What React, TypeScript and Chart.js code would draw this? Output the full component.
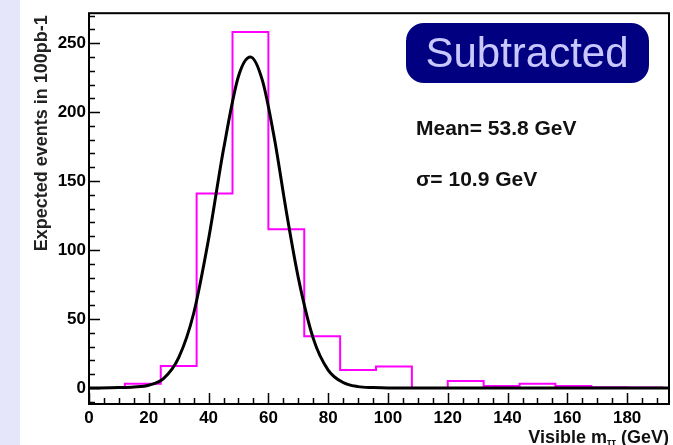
import React, { useEffect, useRef } from "react";
import { Chart, registerables } from "chart.js";

Chart.register(...registerables);

// Histogram bin edges (GeV) and contents (expected events)
const binEdges = [0, 12, 24, 36, 48, 60, 72, 84, 96, 108, 120, 132, 144, 156, 168, 180, 192];
const binValues = [0, 3, 16, 141, 258, 115, 37.5, 13, 15.5, 0, 5, 1.5, 3, 1.5, 0.5, 0.3];

// Gaussian fit curve
const fitX = [0, 10, 15, 20, 25, 30, 35, 40, 45, 50, 54, 58, 62, 66, 70, 75, 80, 85, 90, 95, 100, 194];
const fitY = [0, 0.3, 0.7, 2, 7, 22, 54, 108, 173, 226, 240, 223, 181, 128, 80, 36, 13, 4, 1, 0.3, 0, 0];

const xMajorTicks = [0, 20, 40, 60, 80, 100, 120, 140, 160, 180];
const yMajorTicks = [0, 50, 100, 150, 200, 250];

const xTitleMain = "Visible m";
const xTitleSub = "ττ";
const xTitleEnd = " (GeV)";
const yTitle = "Expected events in 100pb-1";
const boxLabel = "Subtracted";
const meanLabel = "Mean= 53.8 GeV";
const sigmaLabel = "σ= 10.9 GeV";

const FONT = '"Liberation Sans", Arial, sans-serif';

const decorPlugin = {
  id: "decor",
  beforeDraw(chart: any) {
    const ctx = chart.ctx;
    ctx.save();
    ctx.fillStyle = "#ffffff";
    ctx.fillRect(0, 0, chart.width, chart.height);
    ctx.fillStyle = "#e6e6fa";
    ctx.fillRect(0, 0, 20, chart.height);
    ctx.restore();
  },
  afterDraw(chart: any) {
    const ctx = chart.ctx;
    const { left, right, top, bottom } = chart.chartArea;
    const xs = chart.scales.x;
    const ys = chart.scales.y;
    ctx.save();
    // frame
    ctx.strokeStyle = "#000";
    ctx.lineWidth = 2;
    ctx.strokeRect(left, top, right - left, bottom - top);
    // x ticks (inward)
    ctx.lineWidth = 1.5;
    ctx.beginPath();
    for (let v = 0; v <= xs.max; v += 5) {
      const px = Math.round(xs.getPixelForValue(v)) + 0.5;
      const len = v % 20 === 0 ? 11 : 6;
      ctx.moveTo(px, bottom);
      ctx.lineTo(px, bottom - len);
    }
    // y ticks (inward)
    for (let v = -10; v <= ys.max; v += 10) {
      const py = Math.round(ys.getPixelForValue(v)) + 0.5;
      const len = v % 50 === 0 ? 11 : 6;
      ctx.moveTo(left, py);
      ctx.lineTo(left + len, py);
    }
    ctx.stroke();

    // y title
    ctx.save();
    ctx.translate(47, top + 2);
    ctx.rotate(-Math.PI / 2);
    ctx.fillStyle = "#222";
    ctx.font = `bold 18px ${FONT}`;
    ctx.textAlign = "right";
    ctx.textBaseline = "alphabetic";
    ctx.fillText(yTitle, 0, 0);
    ctx.restore();

    // x title
    ctx.fillStyle = "#111";
    ctx.textBaseline = "alphabetic";
    ctx.textAlign = "left";
    const mainFont = `bold 18px ${FONT}`;
    const subFont = `bold 10px ${FONT}`;
    ctx.font = mainFont;
    const w1 = ctx.measureText(xTitleMain).width;
    const w3 = ctx.measureText(xTitleEnd).width;
    ctx.font = subFont;
    const w2 = ctx.measureText(xTitleSub).width;
    const xEnd = 669;
    const baseY = 443;
    const x0 = xEnd - (w1 + w2 + w3);
    ctx.font = mainFont;
    ctx.fillText(xTitleMain, x0, baseY);
    ctx.font = subFont;
    ctx.fillText(xTitleSub, x0 + w1, baseY + 3);
    ctx.font = mainFont;
    ctx.fillText(xTitleEnd, x0 + w1 + w2, baseY);

    // Subtracted box
    ctx.fillStyle = "#000080";
    ctx.beginPath();
    (ctx as any).roundRect(406, 23, 243, 60, 18);
    ctx.fill();
    ctx.fillStyle = "#c8c8ff";
    ctx.font = `42px ${FONT}`;
    ctx.textAlign = "center";
    ctx.fillText(boxLabel, 527, 67);

    // stats
    ctx.fillStyle = "#111";
    ctx.textAlign = "left";
    ctx.font = `bold 21px ${FONT}`;
    ctx.fillText(meanLabel, 416, 135);
    ctx.fillText(sigmaLabel, 416, 186);
    ctx.restore();
  },
};

export default function App() {
  const ref = useRef<HTMLCanvasElement | null>(null);
  useEffect(() => {
    if (!ref.current) return;
    const histPoints = binValues.map((v, i) => ({ x: binEdges[i], y: v }));
    histPoints.push({ x: binEdges[binEdges.length - 1], y: binValues[binValues.length - 1] });
    const fitPoints = fitX.map((x, i) => ({ x, y: fitY[i] }));
    const chart = new Chart(ref.current, {
      type: "line",
      data: {
        datasets: [
          {
            label: "fit",
            data: fitPoints,
            borderColor: "#000",
            borderWidth: 3,
            pointRadius: 0,
            cubicInterpolationMode: "monotone",
            fill: false,
          },
          {
            label: "hist",
            data: histPoints,
            borderColor: "#ff00ff",
            borderWidth: 2,
            pointRadius: 0,
            stepped: "before",
            fill: false,
          },
        ],
      },
      options: {
        responsive: false,
        animation: false,
        events: [],
        layout: { padding: { left: 0, top: 13, right: 4, bottom: 0 } },
        plugins: { legend: { display: false }, tooltip: { enabled: false } },
        scales: {
          x: {
            type: "linear",
            min: 0,
            max: 194,
            grid: { display: false, drawTicks: false },
            border: { display: false },
            afterFit: (s: any) => {
              s.height = 41;
            },
            afterBuildTicks: (s: any) => {
              s.ticks = xMajorTicks.map((v) => ({ value: v }));
            },
            ticks: {
              color: "#000",
              font: { family: FONT, size: 17, weight: "bold" },
              padding: 4,
              maxRotation: 0,
              autoSkip: false,
              callback: (v: any) => String(v),
            },
          },
          y: {
            type: "linear",
            min: -11.6,
            max: 271.7,
            grid: { display: false, drawTicks: false },
            border: { display: false },
            afterFit: (s: any) => {
              s.width = 89;
            },
            afterBuildTicks: (s: any) => {
              s.ticks = yMajorTicks.map((v) => ({ value: v }));
            },
            ticks: {
              color: "#000",
              font: { family: FONT, size: 17, weight: "bold" },
              padding: 3,
              autoSkip: false,
              callback: (v: any) => String(v),
            },
          },
        },
      },
      plugins: [decorPlugin],
    });
    return () => chart.destroy();
  }, []);
  return (
    <div style={{ position: "fixed", left: 0, top: 0, width: 673, height: 445 }}>
      <canvas ref={ref} width={673} height={445} />
    </div>
  );
}
